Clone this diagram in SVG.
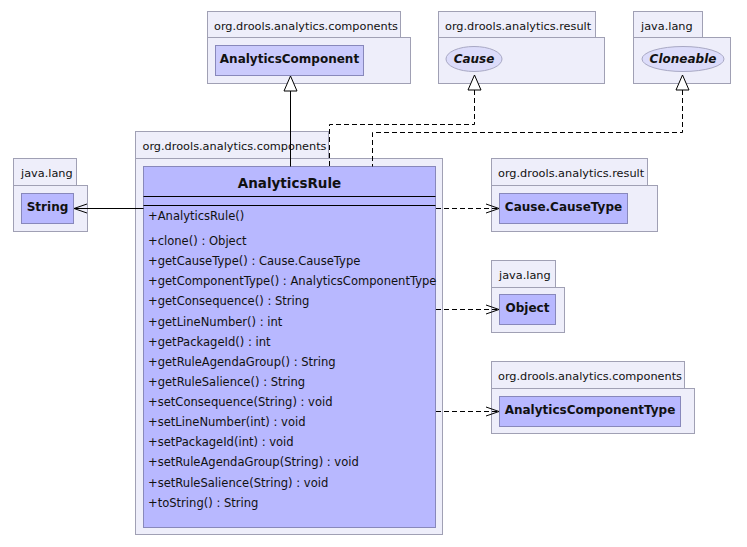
<svg xmlns="http://www.w3.org/2000/svg" width="747" height="547" viewBox="0 0 747 547">
<defs>
<style>
.pkg{fill:#eeeefa;stroke:#a0a0b4;stroke-width:1}
.cls{fill:#b8b8ff;stroke:#8888bb;stroke-width:1}
.cls2{fill:#cacafc;stroke:#8888bb;stroke-width:1}
.ifc{fill:#dcdcfa;stroke:#a8a8c4;stroke-width:1}
.plbl{font-family:"DejaVu Sans",sans-serif;font-size:11.3px;fill:#111}
.cname{font-family:"DejaVu Sans",sans-serif;font-size:12px;font-weight:bold;fill:#111;text-anchor:middle}
.iname{font-family:"DejaVu Sans",sans-serif;font-size:12px;font-weight:bold;font-style:italic;fill:#111;text-anchor:middle}
.title{font-family:"DejaVu Sans",sans-serif;font-size:13.5px;font-weight:bold;fill:#111;text-anchor:middle}
.m{font-family:"DejaVu Sans",sans-serif;font-size:11.55px;fill:#111}
.ln{fill:none;stroke:#000;stroke-width:1}
.dash{fill:none;stroke:#000;stroke-width:1;stroke-dasharray:5,3}
.tri{fill:#fff;stroke:#000;stroke-width:1}
.sep{stroke:#000;stroke-width:1}
</style>
</defs>
<rect width="747" height="547" fill="#fff"/>

<g id="pkg-components-top">
<rect class="pkg" x="207.5" y="11.5" width="193" height="26"/>
<rect class="pkg" x="207.5" y="37.5" width="203" height="46"/>
<text class="plbl" x="214" y="30">org.drools.analytics.components</text>
</g>
<g id="AnalyticsComponent">
<rect class="cls2" x="215.5" y="45.5" width="148" height="30"/>
<text class="cname" x="289.5" y="62.5">AnalyticsComponent</text>
</g>

<g id="pkg-result-top">
<rect class="pkg" x="438.5" y="11.5" width="157" height="26"/>
<rect class="pkg" x="438.5" y="37.5" width="166" height="46"/>
<text class="plbl" x="445" y="30">org.drools.analytics.result</text>
</g>
<g id="Cause">
<ellipse class="ifc" cx="474" cy="59" rx="28" ry="12.5"/>
<text class="iname" x="474" y="63">Cause</text>
</g>

<g id="pkg-javalang-top">
<rect class="pkg" x="633.5" y="11.5" width="69" height="26"/>
<rect class="pkg" x="633.5" y="37.5" width="97" height="46"/>
<text class="plbl" x="641" y="30">java.lang</text>
</g>
<g id="Cloneable">
<ellipse class="ifc" cx="683" cy="59" rx="41" ry="12.5"/>
<text class="iname" x="683" y="63">Cloneable</text>
</g>

<g id="pkg-components-main">
<rect class="pkg" x="135.5" y="131.5" width="193" height="27"/>
<rect class="pkg" x="135.5" y="158.5" width="307" height="376"/>
<text class="plbl" x="142.5" y="150">org.drools.analytics.components</text>
</g>
<g id="AnalyticsRule">
<rect class="cls" x="143.5" y="166.5" width="292" height="361"/>
<text class="title" x="289.5" y="188">AnalyticsRule</text>
<line class="sep" x1="143.5" y1="196.5" x2="435.5" y2="196.5"/>
<line class="sep" x1="143.5" y1="205.5" x2="435.5" y2="205.5"/>
<text class="m" x="148" y="219.5">+AnalyticsRule()</text>
<text class="m" x="148" y="245">+clone() : Object</text>
<text class="m" x="148" y="265.1">+getCauseType() : Cause.CauseType</text>
<text class="m" x="148" y="285.3">+getComponentType() : AnalyticsComponentType</text>
<text class="m" x="148" y="305.4">+getConsequence() : String</text>
<text class="m" x="148" y="325.5">+getLineNumber() : int</text>
<text class="m" x="148" y="345.7">+getPackageId() : int</text>
<text class="m" x="148" y="365.8">+getRuleAgendaGroup() : String</text>
<text class="m" x="148" y="385.9">+getRuleSalience() : String</text>
<text class="m" x="148" y="406">+setConsequence(String) : void</text>
<text class="m" x="148" y="426.2">+setLineNumber(int) : void</text>
<text class="m" x="148" y="446.3">+setPackageId(int) : void</text>
<text class="m" x="148" y="466.4">+setRuleAgendaGroup(String) : void</text>
<text class="m" x="148" y="486.6">+setRuleSalience(String) : void</text>
<text class="m" x="148" y="506.7">+toString() : String</text>
</g>

<g id="pkg-javalang-string">
<rect class="pkg" x="13.5" y="158.5" width="63" height="27"/>
<rect class="pkg" x="13.5" y="185.5" width="74" height="46"/>
<text class="plbl" x="21" y="177">java.lang</text>
</g>
<g id="String">
<rect class="cls" x="21.5" y="193.5" width="52" height="30"/>
<text class="cname" x="47.5" y="211">String</text>
</g>

<g id="pkg-result-right">
<rect class="pkg" x="491.5" y="158.5" width="156" height="27"/>
<rect class="pkg" x="491.5" y="185.5" width="166" height="46"/>
<text class="plbl" x="498" y="177">org.drools.analytics.result</text>
</g>
<g id="CauseType">
<rect class="cls" x="499.5" y="193.5" width="128" height="30"/>
<text class="cname" x="563.5" y="211">Cause.CauseType</text>
</g>

<g id="pkg-javalang-object">
<rect class="pkg" x="491.5" y="260.5" width="64" height="27"/>
<rect class="pkg" x="491.5" y="287.5" width="73" height="45"/>
<text class="plbl" x="499" y="279">java.lang</text>
</g>
<g id="Object">
<rect class="cls" x="499.5" y="294.5" width="56" height="30"/>
<text class="cname" x="527.5" y="312">Object</text>
</g>

<g id="pkg-components-right">
<rect class="pkg" x="491.5" y="361.5" width="193" height="27"/>
<rect class="pkg" x="491.5" y="388.5" width="203" height="45"/>
<text class="plbl" x="498" y="380">org.drools.analytics.components</text>
</g>
<g id="AnalyticsComponentType">
<rect class="cls" x="499.5" y="396.5" width="181" height="30"/>
<text class="cname" x="590" y="414">AnalyticsComponentType</text>
</g>

<g id="connectors">
<line class="ln" x1="290.5" y1="91" x2="290.5" y2="166.5"/>
<polygon class="tri" points="290.5,76 284,91 297,91"/>
<polyline class="dash" points="474.5,90 474.5,124.5 329.5,124.5 329.5,166.5"/>
<polygon class="tri" points="474.5,75 468,90 481,90"/>
<polyline class="dash" points="682.5,90 682.5,132.5 372.5,132.5 372.5,166.5"/>
<polygon class="tri" points="682.5,75 676,90 689,90"/>
<line class="ln" x1="143.5" y1="208.5" x2="74" y2="208.5"/>
<polyline class="ln" points="87,204 74,208.5 87,213"/>
<line class="dash" x1="436" y1="208.5" x2="499" y2="208.5"/>
<polyline class="ln" points="486,204 499,208.5 486,213"/>
<line class="dash" x1="436" y1="309.5" x2="499" y2="309.5"/>
<polyline class="ln" points="486,305 499,309.5 486,314"/>
<line class="dash" x1="436" y1="411.5" x2="499" y2="411.5"/>
<polyline class="ln" points="486,407 499,411.5 486,416"/>
</g>
</svg>
